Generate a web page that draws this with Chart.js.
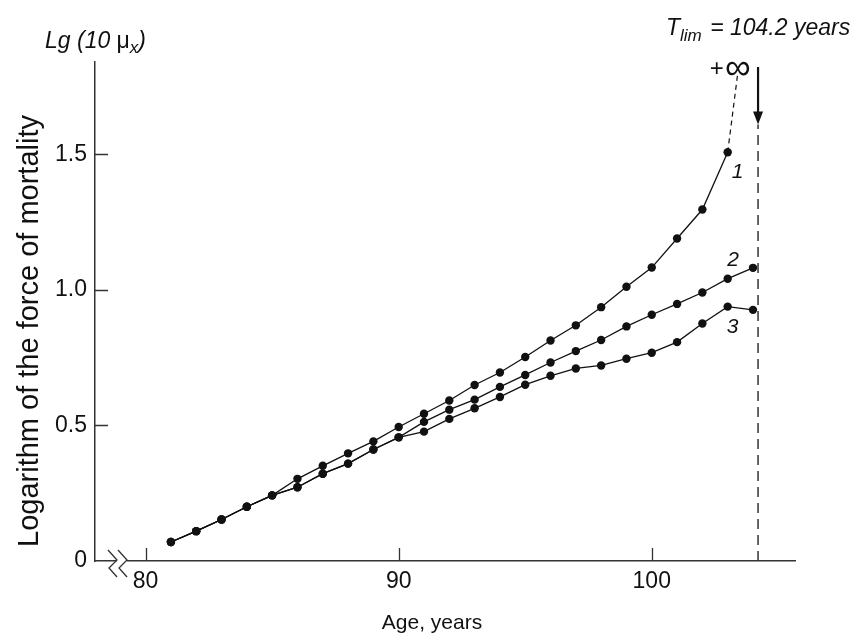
<!DOCTYPE html>
<html>
<head>
<meta charset="utf-8">
<title>Force of mortality at extreme ages</title>
<script src="https://cdn.jsdelivr.net/npm/chart.js@4.4.1/dist/chart.umd.min.js"></script>
<style>
  html, body { margin: 0; padding: 0; background: #fff; }
  #chart { display: block; }
</style>
</head>
<body>
<canvas id="chart" width="856" height="637"></canvas>
<script>
// ages in years
var ages = [81, 82, 83, 84, 85, 86, 87, 88, 89, 90, 91, 92, 93, 94, 95, 96, 97, 98, 99, 100, 101, 102, 103, 104];

// lg(10 mu_x) for the three curves
var curve1 = [0.07, 0.11, 0.153, 0.2, 0.242, 0.303, 0.351, 0.397, 0.441, 0.494, 0.543, 0.592, 0.649, 0.695,
              0.752, 0.813, 0.869, 0.936, 1.011, 1.082, 1.189, 1.296, 1.507, null];
var curve2 = [0.07, 0.11, 0.153, 0.2, 0.242, 0.272, 0.322, 0.359, 0.411, 0.456, 0.513, 0.558, 0.595, 0.642,
              0.686, 0.732, 0.774, 0.815, 0.865, 0.908, 0.948, 0.99, 1.041, 1.081];
var curve3 = [0.07, 0.11, 0.153, 0.2, 0.242, 0.272, 0.322, 0.359, 0.411, 0.456, 0.477, 0.524, 0.563, 0.605,
              0.65, 0.683, 0.71, 0.721, 0.746, 0.768, 0.807, 0.876, 0.938, 0.926];

// curve 1 runs off towards +infinity after its last point
var tailAges = [103, 103.4];
var tailValues = [1.507, 1.8];

// limiting age
var tLim = 104.2;
var tLimTop = 1.61;

var xTicks = [80, 90, 100];
var yTicks = [0, 0.5, 1.0, 1.5];
var curveNames = ["1", "2", "3"];

var FONT = "'Liberation Sans', Arial, Helvetica, sans-serif";
var INK = "#111";
var AXIS = "#333";

function toPoints(xs, ys) {
  var pts = [];
  for (var i = 0; i < xs.length; i++) {
    if (ys[i] !== null) pts.push({ x: xs[i], y: ys[i] });
  }
  return pts;
}

function curveSet(values) {
  return {
    data: toPoints(ages, values),
    borderColor: INK,
    backgroundColor: INK,
    borderWidth: 1.3,
    pointRadius: 4.2,
    pointHoverRadius: 4.2,
    pointBorderWidth: 0,
    tension: 0,
    showLine: true
  };
}

// inward tick marks, the axis break, arrow and loose labels
var extras = {
  id: "extras",
  afterDraw: function (chart) {
    var ctx = chart.ctx;
    var xs = chart.scales.x, ys = chart.scales.y;
    var left = xs.left, bottom = ys.bottom;

    ctx.save();
    ctx.strokeStyle = AXIS;
    ctx.lineWidth = 1.3;
    ctx.beginPath();
    yTicks.forEach(function (v) {
      if (v === 0) return;
      var py = Math.round(ys.getPixelForValue(v)) + 0.5;
      ctx.moveTo(left, py);
      ctx.lineTo(left + 13, py);
    });
    xTicks.forEach(function (v) {
      var px = Math.round(xs.getPixelForValue(v)) + 0.5;
      ctx.moveTo(px, bottom);
      ctx.lineTo(px, bottom - 13);
    });
    ctx.stroke();

    // break in the age axis
    ctx.fillStyle = "#fff";
    ctx.fillRect(left + 22, bottom - 3, 10, 6);
    ctx.beginPath();
    [left + 13, left + 23].forEach(function (bx) {
      ctx.moveTo(bx, bottom - 11);
      ctx.lineTo(bx + 9, bottom - 1);
      ctx.lineTo(bx + 1, bottom + 7);
      ctx.lineTo(bx + 9, bottom + 16);
    });
    ctx.stroke();

    // arrow down to the limiting age
    var ax = xs.getPixelForValue(tLim);
    var tip = ys.getPixelForValue(tLimTop);
    ctx.strokeStyle = INK;
    ctx.lineWidth = 2.2;
    ctx.beginPath();
    ctx.moveTo(ax, ys.top + 5);
    ctx.lineTo(ax, tip - 8);
    ctx.stroke();
    ctx.fillStyle = INK;
    ctx.beginPath();
    ctx.moveTo(ax - 5, tip - 13);
    ctx.lineTo(ax + 5, tip - 13);
    ctx.lineTo(ax, tip);
    ctx.closePath();
    ctx.fill();

    ctx.fillStyle = INK;
    ctx.textBaseline = "alphabetic";

    // +infinity at the end of curve 1
    var ix = xs.getPixelForValue(tailAges[1]);
    ctx.textAlign = "right";
    ctx.font = "24px " + FONT;
    ctx.fillText("+", ix - 14, ys.top + 14);
    ctx.textAlign = "center";
    ctx.font = "36px " + FONT;
    ctx.fillText("\u221E", ix, ys.top + 17);

    // curve numbers
    ctx.font = "italic 21px " + FONT;
    var tags = [
      { x: 103, y: curve1[22], dx: 10, dy: 26 },
      { x: 104, y: curve2[23], dx: -20, dy: -2 },
      { x: 103, y: curve3[22], dx: 5, dy: 26 }
    ];
    tags.forEach(function (t, i) {
      ctx.fillText(curveNames[i], xs.getPixelForValue(t.x) + t.dx, ys.getPixelForValue(t.y) + t.dy);
    });

    // axis titles
    ctx.font = "21px " + FONT;
    ctx.textAlign = "center";
    ctx.fillText("Age, years", 432, 629);
    ctx.save();
    ctx.translate(38, 331);
    ctx.rotate(-Math.PI / 2);
    ctx.font = "29px " + FONT;
    ctx.fillText("Logarithm of the force of mortality", 0, 0);
    ctx.restore();

    // unit label on top of the value axis
    ctx.textAlign = "left";
    ctx.font = "italic 23px " + FONT;
    var lx = 45, ly = 48;
    ctx.fillText("Lg (10 ", lx, ly);
    var w = ctx.measureText("Lg (10 ").width;
    ctx.font = "23px " + FONT;
    ctx.fillText("\u03BC", lx + w, ly);
    w += ctx.measureText("\u03BC").width;
    ctx.font = "italic 17px " + FONT;
    ctx.fillText("x", lx + w, ly + 5);
    w += ctx.measureText("x").width;
    ctx.font = "italic 23px " + FONT;
    ctx.fillText(")", lx + w, ly);

    // limiting age label
    var tx = 666, ty = 35;
    ctx.fillText("T", tx, ty);
    w = ctx.measureText("T").width;
    ctx.font = "italic 17px " + FONT;
    ctx.fillText("lim", tx + w, ty + 6);
    w += ctx.measureText("lim").width + 2;
    ctx.font = "italic 23px " + FONT;
    ctx.fillText(" = " + tLim + " years", tx + w, ty);

    ctx.restore();
  }
};

var ctx0 = document.getElementById("chart");
var myChart = new Chart(ctx0, {
  type: "scatter",
  data: {
    datasets: [
      curveSet(curve1),
      curveSet(curve2),
      curveSet(curve3),
      {
        data: toPoints(tailAges, tailValues),
        borderColor: INK,
        borderWidth: 1.2,
        borderDash: [5, 4],
        pointRadius: 0,
        showLine: true
      },
      {
        data: [{ x: tLim, y: 0 }, { x: tLim, y: tLimTop }],
        borderColor: "#333",
        borderWidth: 1.5,
        borderDash: [10, 6],
        pointRadius: 0,
        showLine: true
      }
    ]
  },
  options: {
    responsive: false,
    animation: false,
    events: [],
    layout: { padding: { top: 62, right: 61, left: 0, bottom: 0 } },
    plugins: { legend: { display: false }, tooltip: { enabled: false } },
    scales: {
      x: {
        type: "linear",
        min: 78,
        max: 105.66,
        grid: { display: false, drawTicks: false },
        border: { display: true, color: AXIS, width: 1.5 },
        afterBuildTicks: function (axis) {
          axis.ticks = xTicks.map(function (v) { return { value: v }; });
        },
        afterFit: function (axis) { axis.height = 76; },
        ticks: {
          color: INK,
          padding: 7,
          maxRotation: 0,
          font: { family: FONT, size: 23 }
        }
      },
      y: {
        type: "linear",
        min: 0,
        max: 1.84,
        grid: { display: false, drawTicks: false },
        border: { display: true, color: AXIS, width: 1.5 },
        afterBuildTicks: function (axis) {
          axis.ticks = yTicks.map(function (v) { return { value: v }; });
        },
        afterFit: function (axis) { axis.width = 95; },
        ticks: {
          color: INK,
          padding: 8,
          font: { family: FONT, size: 23 },
          callback: function (v) { return v === 0 ? "0" : v.toFixed(1); }
        }
      }
    }
  },
  plugins: [extras]
});
</script>
</body>
</html>
